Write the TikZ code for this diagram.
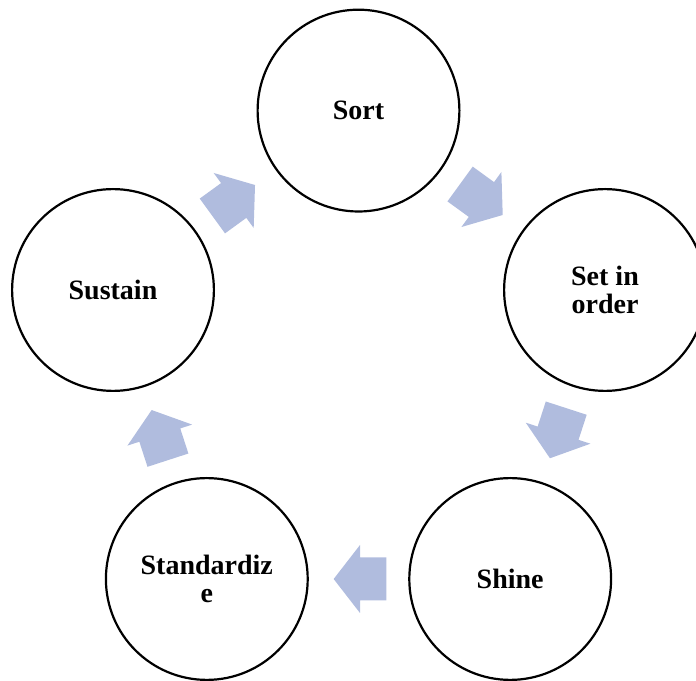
\documentclass[tikz,border=0pt]{standalone}
\usepackage{fontspec}
\setmainfont{Liberation Serif}
\usetikzlibrary{shapes.geometric}
\definecolor{flowblue}{RGB}{176,188,222}
\begin{document}
\begin{tikzpicture}[x=1pt,y=1pt,
  stage/.style={circle, draw=black, line width=2.2pt, fill=white,
    minimum size=201.8pt, inner sep=0pt,
    align=center, font=\fontsize{28}{28}\selectfont\bfseries},
  flowarrow/.style={fill=flowblue, draw=none}]
\useasboundingbox (0,0) rectangle (696,680);

% the five stages
\node[stage] (sort)  at (358.5,569.4) {Sort};
\node[stage] (order) at (605,390)     {Set in\\order};
\node[stage] (shine) at (510.2,101)   {Shine};
\node[stage] (std)   at (206.8,101)   {Standardiz\\e};
\node[stage] (sust)  at (113,390)     {Sustain};

% block arrows between the stages (pointing along +x before rotation)
\newcommand{\blockarrow}[2]{%
  \begin{scope}[shift={#1}, rotate=#2]
    \fill[flowarrow] (-26.35,21.5) -- (0,21.5) -- (0,34) -- (26.35,0)
      -- (0,-34) -- (0,-21.5) -- (-26.35,-21.5) -- cycle;
  \end{scope}}
\blockarrow{(233.7,479.5)}{36}
\blockarrow{(481.4,480.5)}{-36}
\blockarrow{(558.1,246.8)}{-108}
\blockarrow{(360,101)}{180}
\blockarrow{(159.8,244.9)}{108}
\end{tikzpicture}
\end{document}
